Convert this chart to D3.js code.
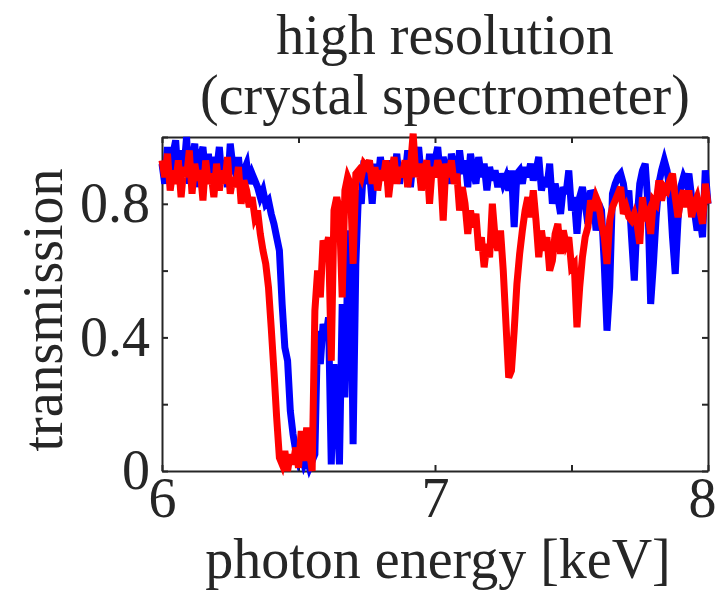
<!DOCTYPE html>
<html>
<head>
<meta charset="utf-8">
<script src="https://cdn.jsdelivr.net/npm/d3@7"></script>
<style>
  html, body { margin: 0; padding: 0; background: #fff; }
  svg { display: block; }
  text { font-family: "Liberation Serif", "Times New Roman", serif; fill: #262626; }
</style>
</head>
<body>
<svg id="chart" width="716" height="593"></svg>
<script>
// Photon energy grid [keV], 10 eV steps from 6 to 8 keV
const energyStart = 6.0;
const energyStep = 0.01;
const nPoints = 201;

// Transmission, blue spectrum
const transBlue = [
  0.92,0.86,0.97,0.88,0.95,0.99,0.87,0.96,0.90,1.00,0.86,0.93,0.98,0.85,0.94,0.97,0.88,0.95,0.86,0.94,0.90,0.97,0.87,0.93,0.85,0.98,0.91,0.89,0.94,0.86,0.90,
  0.92,0.86,0.89,0.87,0.85,0.82,0.84,0.80,0.81,0.77,0.74,0.70,0.66,0.50,0.37,0.33,0.18,0.11,0.06,0.03,0.05,0.02,0.04,0.01,0.03,0.05,
  0.42,0.32,0.44,0.40,0.46,0.02,0.32,0.20,0.02,0.50,0.22,0.60,0.72,0.08,0.62,0.84,0.80,0.93,0.86,
  0.90,0.80,0.92,0.86,0.94,0.88,0.91,0.85,0.93,0.89,0.95,0.86,0.92,0.88,0.96,0.85,0.93,0.90,0.97,0.88,0.92,0.86,0.95,0.90,0.93,
  0.97,0.88,0.94,0.90,0.86,0.95,0.91,0.87,0.96,0.89,0.93,0.85,0.95,0.90,0.86,0.94,0.88,0.92,0.84,0.91,0.87,0.90,0.85,0.89,0.86,0.88,0.84,0.90,0.73,0.89,
  0.90,0.86,0.91,0.88,0.92,0.87,0.90,0.94,0.84,0.88,0.85,0.92,0.80,0.86,0.82,0.77,0.85,0.83,0.90,0.78,0.82,0.71,0.82,0.85,0.80,0.74,0.84,0.82,0.72,0.80,
  0.78,0.62,0.42,0.55,0.83,0.86,0.88,0.89,0.86,0.80,0.84,0.70,0.57,0.75,0.86,0.90,0.92,0.80,0.50,0.62,
  0.76,0.86,0.90,0.93,0.90,0.84,0.70,0.59,0.75,0.85,0.88,0.86,0.89,0.82,0.78,0.72,0.76,0.70,0.90,0.80
];

// Transmission, red spectrum
const transRed = [
  0.93,0.88,0.95,0.84,0.90,0.86,0.93,0.82,0.91,0.88,0.96,0.83,0.92,0.87,0.90,0.81,0.93,0.86,0.89,0.82,0.92,0.84,0.90,0.86,0.94,0.83,0.88,0.85,0.91,0.80,0.87,
  0.84,0.79,0.82,0.76,0.78,0.71,0.66,0.62,0.55,0.43,0.30,0.16,0.04,0.02,0.06,0.00,0.05,0.02,0.07,0.01,0.12,0.03,0.13,0.06,0.00,
  0.48,0.60,0.52,0.69,0.66,0.70,0.33,0.78,0.82,0.78,0.52,0.84,0.88,0.86,0.62,0.89,0.90,0.88,0.92,0.91,
  0.93,0.86,0.91,0.84,0.90,0.87,0.93,0.82,0.89,0.94,0.86,0.91,0.88,0.93,0.85,0.91,1.01,0.88,0.92,0.84,0.90,0.93,0.80,0.91,0.88,
  0.93,0.90,0.75,0.92,0.88,0.93,0.86,0.89,0.78,0.85,0.80,0.71,0.78,0.73,0.77,0.66,0.70,0.61,0.68,0.64,0.80,0.70,0.66,0.72,0.60,0.44,0.28,0.30,0.42,0.56,
  0.65,0.72,0.78,0.82,0.76,0.84,0.75,0.64,0.72,0.66,0.70,0.60,0.63,0.71,0.74,0.65,0.72,0.68,0.70,0.61,0.62,0.43,0.55,0.64,0.70,0.73,0.81,0.78,0.82,0.80,
  0.74,0.70,0.62,0.75,0.79,0.81,0.83,0.85,0.77,0.79,0.76,0.75,0.77,0.74,0.68,0.82,0.75,0.77,0.71,0.81,
  0.80,0.87,0.81,0.85,0.84,0.87,0.89,0.82,0.76,0.81,0.84,0.79,0.84,0.76,0.80,0.82,0.78,0.74,0.86,0.80
];

const xTicks = [6, 6.5, 7, 7.5, 8];
const xTickLabels = ["6", "", "7", "", "8"];
const yTicks = [0, 0.2, 0.4, 0.6, 0.8, 1.0];
const yTickLabels = ["0", "", "0.4", "", "0.8", ""];

const titleLines = ["high resolution", "(crystal spectrometer)"];
const xLabel = "photon energy [keV]";
const yLabel = "transmission";

const energy = d3.range(nPoints).map(i => +(energyStart + i * energyStep).toFixed(2));

// Layout
const plot = { left: 162, right: 708, top: 137, bottom: 471 };
const ink = "#262626";
const fontSize = 56;

const svg = d3.select("#chart");

const x = d3.scaleLinear().domain([6, 8]).range([plot.left, plot.right]);
const y = d3.scaleLinear().domain([0, 1]).range([plot.bottom, plot.top]);

function styleAxis(g, showText) {
  g.select(".domain").attr("stroke", ink).attr("stroke-width", 2);
  g.selectAll(".tick line").attr("stroke", ink).attr("stroke-width", 2);
  g.selectAll(".tick text")
    .attr("font-size", fontSize)
    .attr("font-family", "Liberation Serif, serif")
    .attr("fill", ink)
    .style("display", showText ? null : "none");
}

// Bottom axis with labels, inward ticks
svg.append("g")
  .attr("transform", `translate(0,${plot.bottom})`)
  .call(d3.axisBottom(x).tickValues(xTicks)
    .tickFormat((d, i) => xTickLabels[i])
    .tickSizeInner(-6).tickSizeOuter(0).tickPadding(6))
  .call(g => styleAxis(g, true))
  // keep the last label inside the page edge
  .call(g => g.selectAll(".tick text").filter(d => d === 8).attr("dx", -6));

// Top axis (ticks only)
svg.append("g")
  .attr("transform", `translate(0,${plot.top})`)
  .call(d3.axisTop(x).tickValues(xTicks).tickFormat("")
    .tickSizeInner(-6).tickSizeOuter(0))
  .call(g => styleAxis(g, false));

// Left axis with labels
svg.append("g")
  .attr("transform", `translate(${plot.left},0)`)
  .call(d3.axisLeft(y).tickValues(yTicks)
    .tickFormat((d, i) => yTickLabels[i])
    .tickSizeInner(-6).tickSizeOuter(0).tickPadding(12))
  .call(g => styleAxis(g, true));

// Right axis (ticks only)
svg.append("g")
  .attr("transform", `translate(${plot.right},0)`)
  .call(d3.axisRight(y).tickValues(yTicks).tickFormat("")
    .tickSizeInner(-6).tickSizeOuter(0))
  .call(g => styleAxis(g, false));

// Spectra
const line = d3.line()
  .x((d, i) => x(energy[i]))
  .y(d => y(d));

[[transBlue, "#0000ff"], [transRed, "#ff0000"]].forEach(([vals, color]) => {
  svg.append("path")
    .datum(vals)
    .attr("d", line)
    .attr("fill", "none")
    .attr("stroke", color)
    .attr("stroke-width", 7)
    .attr("stroke-linejoin", "miter")
    .attr("stroke-miterlimit", 4);
});

// Title
const titleX = 445;
svg.append("text")
  .attr("x", titleX).attr("y", 54)
  .attr("text-anchor", "middle")
  .attr("font-size", fontSize)
  .text(titleLines[0]);
svg.append("text")
  .attr("x", titleX).attr("y", 114)
  .attr("text-anchor", "middle")
  .attr("font-size", fontSize)
  .text(titleLines[1]);

// Axis labels
svg.append("text")
  .attr("x", (plot.left + plot.right) / 2 + 3).attr("y", 578)
  .attr("text-anchor", "middle")
  .attr("font-size", fontSize)
  .text(xLabel);

svg.append("text")
  .attr("transform", `translate(62,${(plot.top + plot.bottom) / 2 + 6}) rotate(-90)`)
  .attr("text-anchor", "middle")
  .attr("font-size", fontSize)
  .text(yLabel);
</script>
</body>
</html>
